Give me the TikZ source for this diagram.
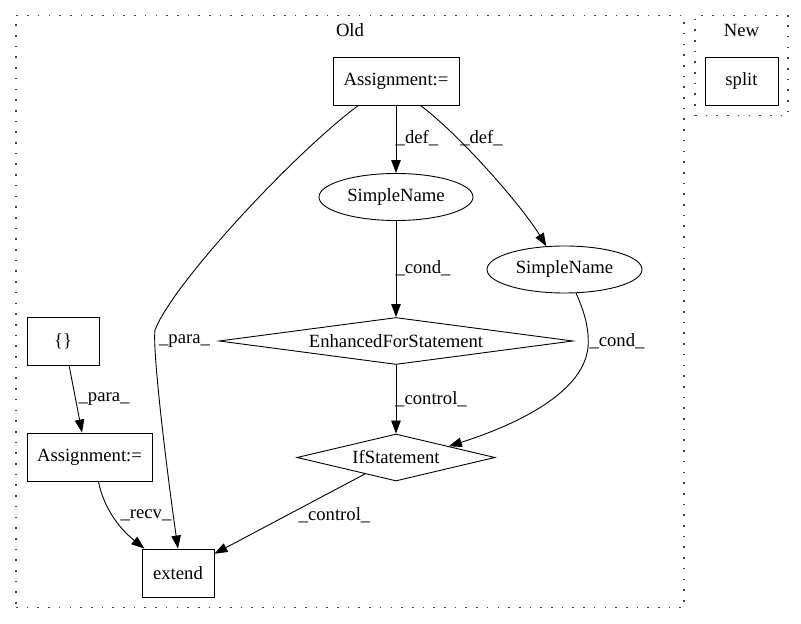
\documentclass[tikz,border=0pt]{standalone}
\usepackage{fontspec}
\setmainfont{Liberation Serif}
\usetikzlibrary{arrows.meta,shapes.geometric,calc}
\begin{document}
\begin{tikzpicture}[x=1pt,y=1pt,
  every node/.style={font=\fontsize{18.67}{22}\selectfont, inner sep=0pt},
  box/.style={draw, line width=0.9pt, rectangle, minimum height=48},
  ell/.style={draw, line width=0.9pt, ellipse, minimum height=47},
  dia/.style={draw, line width=0.9pt, diamond, minimum height=47},
  cluster/.style={draw, line width=1.5pt, dash pattern=on 1.6pt off 9.1pt, rectangle, color=black!75},
  conn/.style={draw, line width=0.9pt, -{Triangle[length=13pt,width=9.5pt]}},
  elab/.style={}
]
\useasboundingbox (0,0) rectangle (801,624);
% clusters
\node[cluster, minimum width=668, minimum height=592] (old) at (350,312.3) {};
\node (oldlab) at (350,594) {Old};
\node[cluster, minimum width=93, minimum height=100] (new) at (741.5,558.3) {};
\node (newlab) at (741.5,594) {New};
% nodes
\node[box, minimum width=126] (a1) at (396,543) {Assignment:=};
\node[box, minimum width=73] (split) at (741.5,543) {split};
\node[ell, minimum width=154] (sn1) at (396,427) {SimpleName};
\node[ell, minimum width=155] (sn2) at (564.5,354.5) {SimpleName};
\node[dia, minimum width=354, label=center:EnhancedForStatement] (efs) at (396,283) {};
\node[dia, minimum width=198, label=center:IfStatement] (ifs) at (396,166.5) {};
\node[box, minimum width=72] (br) at (63,283) {\{\}};
\node[box, minimum width=125] (a2) at (89.5,167) {Assignment:=};
\node[box, minimum width=72] (ext) at (178,51) {extend};
% connectors
\draw[conn] (a1) -- (sn1);
\draw[conn] (a1.-45) .. controls (460,489) and (522,418) .. (sn2.128);
\draw[conn] (a1.213) .. controls (292,469) and (172,339) .. (155,294) .. controls (152,270) and (170,130) .. (ext.north);
\draw[conn] (sn1) -- (efs);
\draw[conn] (sn2.-64) .. controls (583,315) and (588.3,300) .. (588.3,282) .. controls (588.3,232) and (514.7,198.7) .. (ifs.12);
\draw[conn] (efs) -- (ifs);
\draw[conn] (br.-76) -- (a2.107);
\draw[conn] (a2.-70) .. controls (104,115) and (120,95) .. (ext.144);
\draw[conn] (ifs) -- (ext);
% edge labels
\node[elab] (l1) at (417,486) {\_def\_};
\node[elab] (l2) at (481.5,486) {\_def\_};
\node[elab] (l3) at (423,356) {\_cond\_};
\node[elab] (l4) at (184.5,283) {\_para\_};
\node[elab] (l5) at (617,283) {\_cond\_};
\node[elab] (l6) at (104,225) {\_para\_};
\node[elab] (l7) at (431,225) {\_control\_};
\node[elab] (l8) at (146,109) {\_recv\_};
\node[elab] (l9) at (334.5,109) {\_control\_};
\end{tikzpicture}
\end{document}
